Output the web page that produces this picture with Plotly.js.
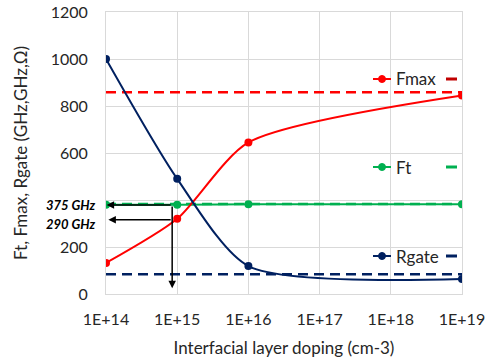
<!DOCTYPE html>
<html><head><meta charset="utf-8">
<script src="https://cdn.plot.ly/plotly-3.0.1.min.js"></script>
<style>html,body{margin:0;padding:0;background:#fff}#chart{width:496px;height:358px}</style>
</head><body><div id="chart"></div>
<script>
const doping = [1e14, 1e15, 1e16, 1e19];
const fmax = [132, 320, 645, 845];
const ft = [380, 380, 382, 382];
const rgate = [1000, 490, 119, 64];
const dashX = [1e14, 1e19];
const fmaxTarget = [858, 858];
const ftTarget = [383, 383];
const rgateTarget = [84, 84];
const tickVals = [1e14, 1e15, 1e16, 1e17, 1e18, 1e19];
const tickText = ['1E+14', '1E+15', '1E+16', '1E+17', '1E+18', '1E+19'];
const yTickVals = [0, 200, 400, 600, 800, 1000, 1200];
const yTickText = ['0', '200', '', '600', '800', '1000', '1200'];
const seriesNames = ['Fmax', 'Ft', 'Rgate'];

const RED = '#ff0000', GREEN = '#00b050', NAVY = '#002060';
const FONT = 'Lato, "Open Sans", sans-serif';

// plot area pixel geometry
const L = 106, R = 462, T = 12, B = 294;
const px = x => (x - L) / (R - L);
const py = y => (B - y) / (B - T);

const traces = [
  {x: dashX, y: fmaxTarget, mode: 'lines', line: {color: RED, width: 2.5, dash: '10px,6px'}, hoverinfo: 'skip'},
  {x: dashX, y: ftTarget, mode: 'lines', line: {color: GREEN, width: 2.5, dash: '10px,6px'}, hoverinfo: 'skip'},
  {x: dashX, y: rgateTarget, mode: 'lines', line: {color: NAVY, width: 2.5, dash: '10px,6px'}, hoverinfo: 'skip'},
  {x: doping, y: ft, name: seriesNames[1], mode: 'lines+markers', line: {color: GREEN, width: 2, shape: 'spline', smoothing: 0.7}, marker: {color: GREEN, size: 8}},
  {x: doping, y: fmax, name: seriesNames[0], mode: 'lines+markers', line: {color: RED, width: 2, shape: 'spline', smoothing: 0.7}, marker: {color: RED, size: 8}},
  {x: doping, y: rgate, name: seriesNames[2], mode: 'lines+markers', line: {color: NAVY, width: 2, shape: 'spline', smoothing: 0.7}, marker: {color: NAVY, size: 8}}
];

// custom legend rows
const legendRows = [
  {name: seriesNames[0], y: 79, c: RED, dc: '#c00000'},
  {name: seriesNames[1], y: 167, c: GREEN, dc: GREEN},
  {name: seriesNames[2], y: 256, c: NAVY, dc: NAVY}
];
const shapes = [];
const annotations = [];
legendRows.forEach(r => {
  shapes.push({type: 'line', xref: 'paper', yref: 'paper', x0: px(373), x1: px(391), y0: py(r.y), y1: py(r.y), line: {color: r.c, width: 2}});
  shapes.push({type: 'circle', xref: 'paper', yref: 'paper', x0: px(378.5), x1: px(385.5), y0: py(r.y + 3.5), y1: py(r.y - 3.5), fillcolor: r.c, line: {color: r.c, width: 1}});
  shapes.push({type: 'line', xref: 'paper', yref: 'paper', x0: px(446), x1: px(457), y0: py(r.y), y1: py(r.y), line: {color: r.dc, width: 3}});
  annotations.push({xref: 'paper', yref: 'paper', x: px(394), y: py(r.y), text: r.name, showarrow: false, xanchor: 'left', yanchor: 'middle', font: {family: FONT, size: 17, color: '#262626'}});
});

// arrows
const xv = Math.log10(8.5e14);
const xLeft = Math.log10(1.02e14);
annotations.push({x: xLeft, y: 379, ax: xv, ay: 379, axref: 'x', ayref: 'y', xref: 'x', yref: 'y', text: '', showarrow: true, arrowhead: 2, arrowsize: 1, arrowwidth: 1.5, arrowcolor: '#000'});
annotations.push({x: Math.log10(1.08e14), y: 316, ax: xv, ay: 316, axref: 'x', ayref: 'y', xref: 'x', yref: 'y', text: '', showarrow: true, arrowhead: 2, arrowsize: 1, arrowwidth: 1.5, arrowcolor: '#000'});
annotations.push({x: xv, y: 25, ax: xv, ay: 379, axref: 'x', ayref: 'y', xref: 'x', yref: 'y', text: '', showarrow: true, arrowhead: 2, arrowsize: 1, arrowwidth: 1.5, arrowcolor: '#000'});
annotations.push({xref: 'paper', yref: 'paper', x: px(97), y: py(205), text: '<b><i>375 GHz</i></b>', showarrow: false, xanchor: 'right', yanchor: 'middle', font: {family: FONT, size: 13, color: '#000'}});
annotations.push({xref: 'paper', yref: 'paper', x: px(97), y: py(224), text: '<b><i>290 GHz</i></b>', showarrow: false, xanchor: 'right', yanchor: 'middle', font: {family: FONT, size: 13, color: '#000'}});

const layout = {
  width: 496, height: 358,
  margin: {l: L, r: 496 - R, t: T, b: 358 - B},
  paper_bgcolor: '#fff', plot_bgcolor: '#fff',
  showlegend: false,
  font: {family: FONT, size: 16, color: '#262626'},
  xaxis: {
    type: 'log', range: [14, 19], tickvals: tickVals, ticktext: tickText,
    showgrid: true, gridcolor: '#d9d9d9', gridwidth: 1,
    showline: true, linecolor: '#d9d9d9', mirror: true, zeroline: false,
    ticks: '', ticklen: 0, ticklabelstandoff: 11, tickfont: {family: FONT, size: 16, color: '#262626'},
    title: {text: 'Interfacial layer doping (cm-3)', font: {family: FONT, size: 17, color: '#262626'}, standoff: 14}
  },
  yaxis: {
    range: [0, 1200], tickvals: yTickVals, ticktext: yTickText,
    showgrid: true, gridcolor: '#d9d9d9', gridwidth: 1,
    showline: true, linecolor: '#d9d9d9', mirror: true, zeroline: false,
    ticks: '', ticklabelstandoff: 14, tickfont: {family: FONT, size: 16, color: '#262626'},
    title: {text: 'Ft, Fmax, Rgate (GHz,GHz,Ω)', font: {family: FONT, size: 17, color: '#262626'}, standoff: 18}
  },
  shapes: shapes,
  annotations: annotations
};

Plotly.newPlot('chart', traces, layout, {displayModeBar: false, staticPlot: true});
</script></body></html>
